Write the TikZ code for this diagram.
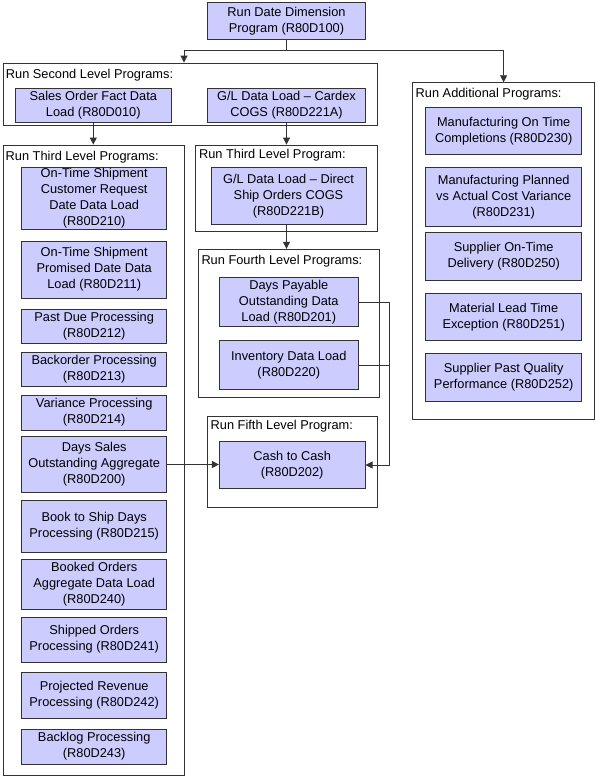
\documentclass[tikz,border=0pt]{standalone}
\usepackage{fontspec}
\setmainfont{Liberation Sans}
\usetikzlibrary{arrows.meta}
\definecolor{progfill}{RGB}{204,204,255}
\definecolor{lineclr}{RGB}{51,51,51}
\begin{document}
\begin{tikzpicture}[x=1pt,y=-1pt,
  font=\fontsize{12.8}{16}\selectfont,
  prog/.style={draw=lineclr,fill=progfill,line width=0.9pt,align=center,inner sep=0pt},
  group/.style={draw=lineclr,line width=0.9pt,inner sep=0pt},
  grouplabel/.style={anchor=base west,inner sep=0pt},
  link/.style={draw=lineclr,line width=0.9pt},
  arr/.style={link,-{Triangle[length=7pt,width=7pt]}}]
\fill[white] (0,0) rectangle (596,779);
\useasboundingbox (0,0) rectangle (596,779);
% start
\node[prog,minimum width=158,minimum height=37] (r100) at (286.5,21) {Run Date Dimension\\Program (R80D100)};
% second level
\node[group,minimum width=374,minimum height=62] (second) at (190,94) {};
\node[grouplabel] (secondlbl) at (5.7,78.6) {Run Second Level Programs:};
\node[prog,minimum width=156,minimum height=34] (r010) at (93.3,105) {Sales Order Fact Data\\Load (R80D010)};
\node[prog,minimum width=158,minimum height=34] (r221a) at (286.5,105) {G/L Data Load – Cardex\\COGS (R80D221A)};
% third level, left
\node[group,minimum width=181,minimum height=630] (third) at (93.5,460) {};
\node[grouplabel] (thirdlbl) at (5.5,160.3) {Run Third Level Programs:};
\node[prog,minimum width=145,minimum height=62] (r210) at (94.2,198) {On-Time Shipment\\Customer Request\\Date Data Load\\(R80D210)};
\node[prog,minimum width=145,minimum height=57] (r211) at (94.2,269.5) {On-Time Shipment\\Promised Date Data\\Load (R80D211)};
\node[prog,minimum width=145,minimum height=34] (r212) at (94.2,326.3) {Past Due Processing\\(R80D212)};
\node[prog,minimum width=145,minimum height=34.4] (r213) at (94.2,369.5) {Backorder Processing\\(R80D213)};
\node[prog,minimum width=145,minimum height=35] (r214) at (94.2,412.5) {Variance Processing\\(R80D214)};
\node[prog,minimum width=145,minimum height=56] (r200) at (94.2,464.5) {Days Sales\\Outstanding Aggregate\\(R80D200)};
\node[prog,minimum width=145,minimum height=51.3] (r215) at (94.2,526.3) {Book to Ship Days\\Processing (R80D215)};
\node[prog,minimum width=145,minimum height=50] (r240) at (94.2,584) {Booked Orders\\Aggregate Data Load\\(R80D240)};
\node[prog,minimum width=145,minimum height=45] (r241) at (94.2,639.5) {Shipped Orders\\Processing (R80D241)};
\node[prog,minimum width=145,minimum height=46] (r242) at (94.2,695) {Projected Revenue\\Processing (R80D242)};
\node[prog,minimum width=145,minimum height=35] (r243) at (94.2,746.5) {Backlog Processing\\(R80D243)};
% third level, middle
\node[group,minimum width=182,minimum height=86] (midthird) at (286.7,188) {};
\node[grouplabel] (midthirdlbl) at (198.9,158.9) {Run Third Level Program:};
\node[prog,minimum width=155,minimum height=57] (r221b) at (288.5,195.8) {G/L Data Load – Direct\\Ship Orders COGS\\(R80D221B)};
% fourth level
\node[group,minimum width=181,minimum height=148.4] (fourth) at (288.8,323.5) {};
\node[grouplabel] (fourthlbl) at (201.3,264.6) {Run Fourth Level Programs:};
\node[prog,minimum width=139,minimum height=49.4] (r201) at (288.8,302) {Days Payable\\Outstanding Data\\Load (R80D201)};
\node[prog,minimum width=139,minimum height=48.6] (r220) at (288.8,365) {Inventory Data Load\\(R80D220)};
% fifth level
\node[group,minimum width=170,minimum height=91.3] (fifth) at (292.7,461.7) {};
\node[grouplabel] (fifthlbl) at (210.5,429.6) {Run Fifth Level Program:};
\node[prog,minimum width=145.7,minimum height=46.7] (r202) at (292.2,465) {Cash to Cash\\(R80D202)};
% additional
\node[group,minimum width=181.8,minimum height=336.6] (additional) at (503.6,251) {};
\node[grouplabel] (additionallbl) at (415.5,97.9) {Run Additional Programs:};
\node[prog,minimum width=156,minimum height=47] (r230) at (503.7,130.8) {Manufacturing On Time\\Completions (R80D230)};
\node[prog,minimum width=156,minimum height=58.7] (r231) at (503.7,196.7) {Manufacturing Planned\\vs Actual Cost Variance\\(R80D231)};
\node[prog,minimum width=156,minimum height=47.7] (r250) at (503.7,256.2) {Supplier On-Time\\Delivery (R80D250)};
\node[prog,minimum width=156,minimum height=47.4] (r251) at (503.7,317) {Material Lead Time\\Exception (R80D251)};
\node[prog,minimum width=156,minimum height=48.4] (r252) at (503.7,377.5) {Supplier Past Quality\\Performance (R80D252)};
% connectors
\coordinate (split) at (286.5,50);
\draw[link] (r100.south) -- (split);
\draw[arr] (split) -| ([xshift=-6]second.north);
\draw[arr] (split) -| (additional.north);
\draw[arr] (r010.south) -- (r010.south |- third.north);
\draw[arr] (r221a.south) -- (r221a.south |- midthird.north);
\draw[arr] (r221b.south -| r221a.south) -- (fourth.north -| r221a.south);
\draw[arr] (r200.east) -- (r200.east -| r202.west);
\coordinate (join) at (389.3,302);
\draw[arr] (r201.east) -- (join) |- (r202.east);
\draw[link] (r220.east) -- (r220.east -| join);
\end{tikzpicture}
\end{document}
